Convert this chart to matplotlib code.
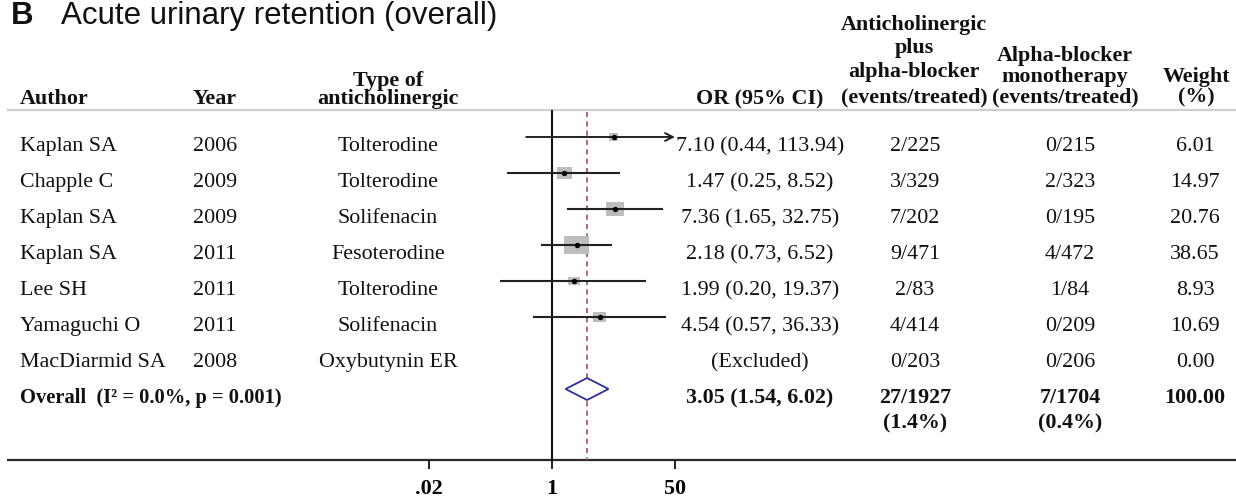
import numpy as np
import matplotlib
matplotlib.use("Agg")
import matplotlib.pyplot as plt
from matplotlib.path import Path
from matplotlib.ticker import FixedLocator, FixedFormatter

# ---------------- data ----------------
authors = ["Kaplan SA", "Chapple C", "Kaplan SA", "Kaplan SA", "Lee SH", "Yamaguchi O", "MacDiarmid SA"]
years = ["2006", "2009", "2009", "2011", "2011", "2011", "2008"]
drugs = ["Tolterodine", "Tolterodine", "Solifenacin", "Fesoterodine", "Tolterodine", "Solifenacin", "Oxybutynin ER"]
or_est = [7.10, 1.47, 7.36, 2.18, 1.99, 4.54, np.nan]
ci_lo = [0.44, 0.25, 1.65, 0.73, 0.20, 0.57, np.nan]
ci_hi = [113.94, 8.52, 32.75, 6.52, 19.37, 36.33, np.nan]
combo_events = ["2/225", "3/329", "7/202", "9/471", "2/83", "4/414", "0/203"]
mono_events = ["0/215", "2/323", "0/195", "4/472", "1/84", "0/209", "0/206"]
weights = [6.01, 14.97, 20.76, 38.65, 8.93, 10.69, 0.00]

overall_label = "Overall  (I\u00b2 = 0.0%, p = 0.001)"
overall_or = 3.05
overall_lo = 1.54
overall_hi = 6.02
overall_combo = ["27/1927", "(1.4%)"]
overall_mono = ["7/1704", "(0.4%)"]
overall_weight = 100.00

tick_values = [0.02, 1, 50]
tick_labels = [".02", "1", "50"]

title_letter = "B"
title_text = "Acute urinary retention (overall)"

# ---------------- layout ----------------
W, H = 1236, 499
SERIF = "Liberation Serif"
FS = 15.8

fig = plt.figure(figsize=(W / 100, H / 100), dpi=100)

# text layer in pixel coordinates
axT = fig.add_axes([0, 0, 1, 1])
axT.set_xlim(0, W)
axT.set_ylim(H, 0)
axT.axis("off")

# forest plot axes (log scale), bottom edge at y=460 px
y_axis = 460
x_lo_px, x_hi_px = 429, 675
axF = fig.add_axes([x_lo_px / W, (H - y_axis) / H, (x_hi_px - x_lo_px) / W, y_axis / H])
axF.set_xscale("log")
axF.set_xlim(tick_values[0], tick_values[-1])
axF.set_ylim(y_axis, 0)
axF.patch.set_visible(False)
for s in axF.spines.values():
    s.set_visible(False)
axF.yaxis.set_visible(False)
axF.xaxis.set_major_locator(FixedLocator(tick_values))
axF.xaxis.set_major_formatter(FixedFormatter(tick_labels))
axF.xaxis.set_minor_locator(FixedLocator([]))
axF.tick_params(axis="x", direction="out", length=6.5, width=1.4, color="#222222", pad=7,
                labelsize=FS)
for lab in axF.get_xticklabels():
    lab.set_fontfamily(SERIF)
    lab.set_fontweight("bold")

# title
axT.text(11, 24, title_letter, fontsize=22.5, fontweight="bold", family="Liberation Sans",
         ha="left", va="baseline", color="#111111")
axT.text(61, 24, title_text, fontsize=22.5, family="Liberation Sans",
         ha="left", va="baseline", color="#111111")

# headers
hdr = dict(fontsize=FS, fontweight="bold", family=SERIF, va="baseline", color="#111111")
axT.text(20, 104, "Author", ha="left", **hdr)
axT.text(193, 104, "Year", ha="left", **hdr)
axT.text(388, 86, "Type of", ha="center", **hdr)
axT.text(388, 104, "anticholinergic", ha="center", **hdr)
axT.text(760, 104, "OR (95% CI)", ha="center", **hdr)
axT.text(914, 30, "Anticholinergic", ha="center", **hdr)
axT.text(914, 53, "plus", ha="center", **hdr)
axT.text(914, 77, "alpha-blocker", ha="center", **hdr)
axT.text(914, 102, "(events/treated)", ha="center", **hdr)
axT.text(1065, 61, "Alpha-blocker", ha="center", **hdr)
axT.text(1065, 82, "monotherapy", ha="center", **hdr)
axT.text(1065, 102, "(events/treated)", ha="center", **hdr)
axT.text(1196, 82, "Weight", ha="center", **hdr)
axT.text(1196, 102, "(%)", ha="center", **hdr)

# horizontal rules
axT.plot([7, W], [110, 110], color="#cfcfcf", lw=1.6, solid_capstyle="butt")
axT.plot([7, W], [y_axis, y_axis], color="#2a2a2a", lw=1.6, solid_capstyle="butt")

# rows
row0, row_step = 137, 36
body = dict(fontsize=FS, family=SERIF, va="baseline", color="#111111")
n = len(authors)
ys = [row0 + row_step * i for i in range(n)]
xmax = tick_values[-1]

for i in range(n):
    y = ys[i]
    tb = y + 14
    axT.text(20, tb, authors[i], ha="left", **body)
    axT.text(193, tb, years[i], ha="left", **body)
    axT.text(388, tb, drugs[i], ha="center", **body)
    if np.isnan(or_est[i]):
        lab = "(Excluded)"
    else:
        lab = f"{or_est[i]:.2f} ({ci_lo[i]:.2f}, {ci_hi[i]:.2f})"
    axT.text(760, tb, lab, ha="center", **body)
    axT.text(915, tb, combo_events[i], ha="center", **body)
    axT.text(1070, tb, mono_events[i], ha="center", **body)
    axT.text(1195, tb, f"{weights[i]:.2f}", ha="center", **body)

# reference lines
axF.plot([1, 1], [110, y_axis], color="#111111", lw=1.5, solid_capstyle="butt", zorder=2)
axF.plot([overall_or, overall_or], [112, y_axis], color="#b06868", lw=1.4,
         linestyle=(0, (2.6, 2.2)), zorder=2)

# CI lines
for i in range(n):
    if np.isnan(or_est[i]):
        continue
    y = ys[i]
    if ci_hi[i] > xmax:
        axF.annotate("", xy=(xmax, y), xytext=(ci_lo[i], y),
                     arrowprops=dict(arrowstyle="->", lw=1.4, color="#222222",
                                     shrinkA=0, shrinkB=0, mutation_scale=14),
                     annotation_clip=False, zorder=3)
    else:
        axF.plot([ci_lo[i], ci_hi[i]], [y, y], color="#222222", lw=1.5, zorder=3)

# weight squares (slightly wider than tall, as in reference)
rect = Path([(-1, -0.75), (1, -0.75), (1, 0.75), (-1, 0.75), (-1, -0.75)],
            [Path.MOVETO, Path.LINETO, Path.LINETO, Path.LINETO, Path.CLOSEPOLY])
valid = [i for i in range(n) if not np.isnan(or_est[i]) and weights[i] > 0]
axF.scatter([or_est[i] for i in valid], [ys[i] for i in valid],
            s=[8.0 * weights[i] for i in valid], marker=rect, color="#bdbdbd",
            linewidths=0, zorder=2.5)
axF.scatter([or_est[i] for i in valid], [ys[i] for i in valid],
            s=15, marker="o", color="#000000", linewidths=0, zorder=4)

# overall diamond
yo = row0 + row_step * n
dh = 11
axF.fill([overall_lo, overall_or, overall_hi, overall_or, overall_lo],
         [yo, yo - dh, yo, yo + dh, yo], facecolor="white", edgecolor="#2e2e96",
         lw=1.3, zorder=4)

bold = dict(body, fontweight="bold")
tb = yo + 14
axT.text(20, tb, overall_label, ha="left", **dict(bold, fontsize=14.8))
axT.text(760, tb, f"{overall_or:.2f} ({overall_lo:.2f}, {overall_hi:.2f})", ha="center", **bold)
axT.text(915, tb, overall_combo[0], ha="center", **bold)
axT.text(915, tb + 25, overall_combo[1], ha="center", **bold)
axT.text(1070, tb, overall_mono[0], ha="center", **bold)
axT.text(1070, tb + 25, overall_mono[1], ha="center", **bold)
axT.text(1195, tb, f"{overall_weight:.2f}", ha="center", **bold)

fig.savefig("out.png", dpi=100)
